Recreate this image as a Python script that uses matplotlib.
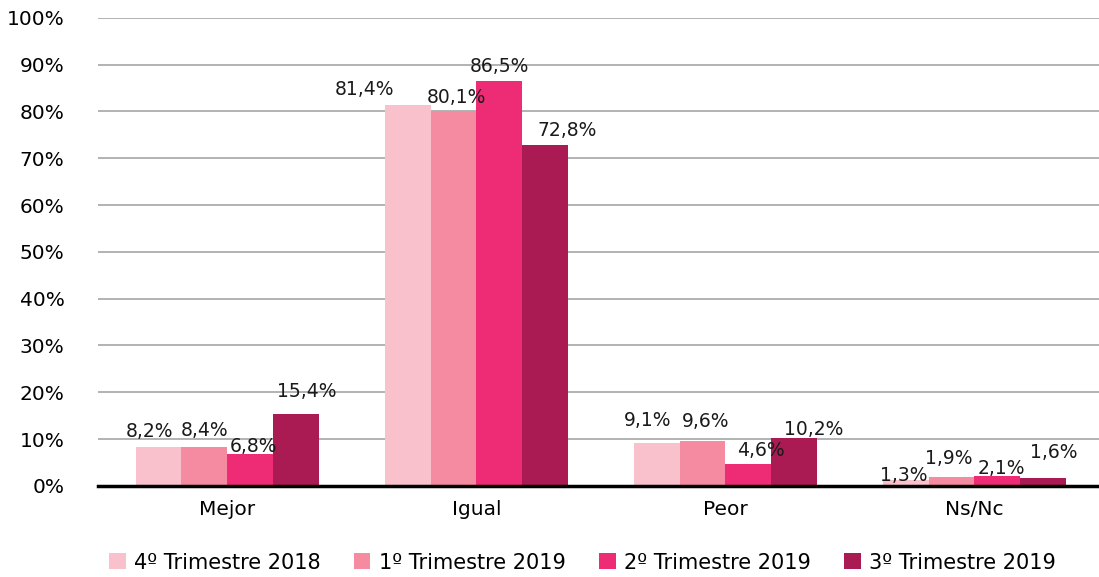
import numpy as np
import matplotlib
matplotlib.use('Agg')
import matplotlib.pyplot as plt

# data
categories = ['Mejor', 'Igual', 'Peor', 'Ns/Nc']
series = ['4º Trimestre 2018', '1º Trimestre 2019', '2º Trimestre 2019', '3º Trimestre 2019']
t4_2018 = [8.2, 81.4, 9.1, 1.3]
t1_2019 = [8.4, 80.1, 9.6, 1.9]
t2_2019 = [6.8, 86.5, 4.6, 2.1]
t3_2019 = [15.4, 72.8, 10.2, 1.6]
colors = ['#F8C1CB', '#F48BA0', '#EE2C75', '#A91B52']

# label offsets in pixels (dx, dy) from bar top centre, per series
label_dx = [[-9, -43, -9, -2], [0, 3, 3, -3], [3, 0, 13, 4], [11, 22, 20, 11]]
label_dy = [[16, 15, 23, 4], [16, 14, 19, 18], [8, 15, 14, 8], [22, 15, 9, 26]]

plt.rcParams['font.family'] = 'DejaVu Sans'

fig = plt.figure(figsize=(10.99, 5.77), dpi=100)
ax = fig.add_axes([0.089, 0.158, 0.911, 0.811])

x = np.arange(len(categories))
w = 0.184
data = [t4_2018, t1_2019, t2_2019, t3_2019]

for i, vals in enumerate(data):
    pos = x + (i - 1.5) * w
    ax.bar(pos, vals, w, color=colors[i], label=series[i], zorder=3)
    for j, v in enumerate(vals):
        ax.annotate(('%.1f%%' % v).replace('.', ','), (pos[j], v),
                    xytext=(label_dx[i][j] * 0.72, label_dy[i][j] * 0.72),
                    textcoords='offset points', ha='center', va='center',
                    fontsize=13.5, color='#1a1a1a', zorder=4)

ax.set_xlim(-0.52, 3.5)
ax.set_ylim(0, 100)
ax.set_yticks(np.arange(0, 101, 10))
ax.set_yticklabels(['%d%%' % t for t in range(0, 101, 10)], fontsize=14.5)
ax.set_xticks(x)
ax.set_xticklabels(categories, fontsize=14.5)
ax.tick_params(length=0, pad=10)
ax.tick_params(axis='y', pad=24)
ax.grid(axis='y', color='#A6A6A6', lw=1.2, zorder=0)
for s in ['top', 'right', 'left']:
    ax.spines[s].set_visible(False)
ax.spines['bottom'].set_linewidth(2.5)
ax.spines['bottom'].set_zorder(5)

fig.legend(loc='lower center', bbox_to_anchor=(0.53, -0.025), ncol=4, frameon=False,
           fontsize=15, handlelength=0.8, handleheight=0.8, handletextpad=0.4,
           columnspacing=1.6)

fig.savefig('out.png', dpi=100)
